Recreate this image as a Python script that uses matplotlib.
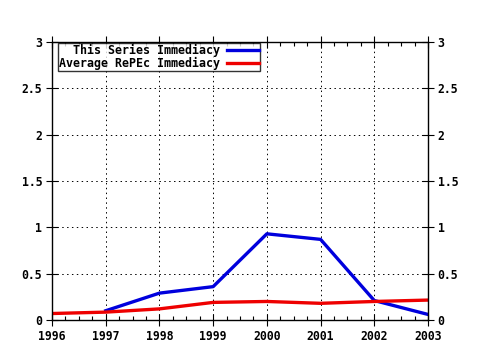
import matplotlib
matplotlib.use('Agg')
import matplotlib.pyplot as plt
from matplotlib.ticker import MultipleLocator

# Data
years = [1996, 1997, 1998, 1999, 2000, 2001, 2002, 2003]
series_years = [1997, 1998, 1999, 2000, 2001, 2002, 2003]
series_immediacy = [0.10, 0.29, 0.36, 0.93, 0.87, 0.21, 0.06]
repec_immediacy = [0.07, 0.085, 0.12, 0.19, 0.20, 0.18, 0.20, 0.215]

plt.rcParams['font.family'] = ['DejaVu Sans Mono']
plt.rcParams['font.weight'] = 'bold'

fig = plt.figure(figsize=(4.8, 3.5), dpi=100)
ax = fig.add_axes([52 / 480, 30 / 350, 376 / 480, 278 / 350])

ax.plot(series_years, series_immediacy, color='#0000dd', lw=2.4, label='This Series Immediacy')
ax.plot(years, repec_immediacy, color='#ee0000', lw=2.4, label='Average RePEc Immediacy')

ax.set_xlim(1996, 2003)
ax.set_ylim(0, 3)
ax.xaxis.set_major_locator(MultipleLocator(1))
ax.xaxis.set_minor_locator(MultipleLocator(0.25))
ax.set_yticks([0, 0.5, 1, 1.5, 2, 2.5, 3])
ax.set_yticklabels(['0', '0.5', '1', '1.5', '2', '2.5', '3'])

ax.grid(True, which='major', color='black', linestyle=(0, (1.5, 3.5)), lw=0.7)
ax.tick_params(which='major', direction='inout', length=8, width=0.8,
               top=True, right=True, labelright=True, labelsize=8.3, pad=3)
ax.tick_params(which='minor', direction='in', length=3, width=0.8, top=True)
for s in ax.spines.values():
    s.set_linewidth(1.0)

leg = ax.legend(loc='upper left', bbox_to_anchor=(0.016, 0.997), markerfirst=False,
                frameon=True, fancybox=False, edgecolor='black', fontsize=8.4,
                handlelength=2.7, borderpad=0.1, labelspacing=0.0,
                handletextpad=0.6, borderaxespad=0.0)
leg.get_frame().set_linewidth(1.0)
for t in leg.get_texts():
    t.set_ha('right')

fig.savefig('out.png', dpi=100)
